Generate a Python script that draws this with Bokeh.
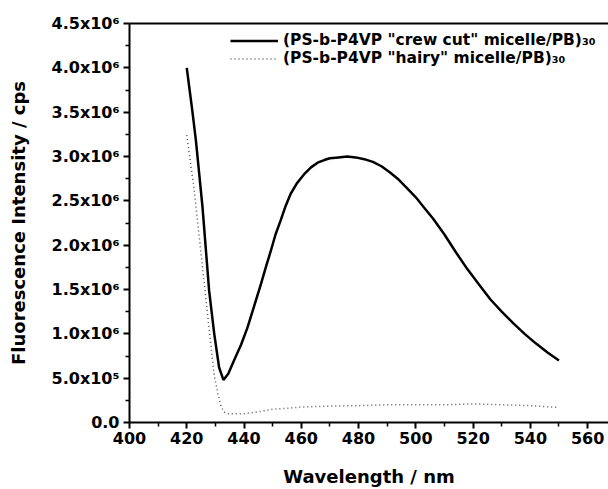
from bokeh.plotting import figure
from bokeh.models import (Range1d, FixedTicker, LinearAxis, Legend, LegendItem)
from bokeh.embed import file_html
from bokeh.resources import INLINE

# ---- data ----
crew_x = [420, 421, 422, 423.2, 425.5, 427.8, 429.6, 431.3, 432.8, 434.5, 436.5, 439,
          441.2, 443.5, 445.9, 447.7, 449.4, 451, 452.8, 454.5, 456.3, 458.5, 461,
          463.5, 465.7, 468, 470, 473, 476, 479, 482, 485, 488, 491, 494,
          497, 500, 503, 506, 510, 514, 518, 522, 526, 530, 534, 538, 542, 546, 550]
crew_y = [4.0e6, 3.75e6, 3.5e6, 3.18e6, 2.43e6, 1.49e6, 1.0e6, 0.62e6, 0.48e6, 0.55e6,
          0.70e6, 0.88e6, 1.07e6, 1.31e6, 1.56e6, 1.76e6, 1.94e6, 2.12e6, 2.28e6, 2.44e6,
          2.58e6, 2.70e6, 2.80e6, 2.88e6, 2.93e6, 2.96e6, 2.98e6, 2.99e6, 3.0e6, 2.99e6,
          2.97e6, 2.94e6, 2.89e6, 2.82e6, 2.74e6, 2.64e6,
          2.54e6, 2.42e6, 2.30e6, 2.12e6, 1.92e6, 1.73e6, 1.56e6, 1.39e6, 1.25e6, 1.12e6,
          1.0e6, 0.89e6, 0.79e6, 0.70e6]

hairy_x = [420, 421, 422.5, 425, 427.5, 429.5, 431, 432, 433, 434, 436, 440, 445, 450,
           455, 460, 470, 480, 490, 500, 510, 520, 530, 540, 545, 550]
hairy_y = [3.24e6, 3.0e6, 2.65e6, 1.9e6, 1.15e6, 0.55e6, 0.3e6, 0.18e6, 0.12e6, 0.1e6,
           0.1e6, 0.1e6, 0.12e6, 0.15e6, 0.16e6, 0.175e6, 0.185e6, 0.19e6, 0.2e6, 0.2e6,
           0.2e6, 0.21e6, 0.2e6, 0.19e6, 0.18e6, 0.17e6]

x_ticks = [400, 420, 440, 460, 480, 500, 520, 540, 560]
x_minor = [410, 430, 450, 470, 490, 510, 530, 550]
y_ticks = [0, 5e5, 1e6, 1.5e6, 2e6, 2.5e6, 3e6, 3.5e6, 4e6, 4.5e6]
y_minor = [2.5e5, 7.5e5, 1.25e6, 1.75e6, 2.25e6, 2.75e6, 3.25e6, 3.75e6, 4.25e6]
y_labels = ["0.0", "5.0x10\u2075", "1.0x10\u2076", "1.5x10\u2076", "2.0x10\u2076",
            "2.5x10\u2076", "3.0x10\u2076", "3.5x10\u2076", "4.0x10\u2076", "4.5x10\u2076"]

series_labels = ["(PS-b-P4VP \"crew cut\" micelle/PB)\u2083\u2080",
                 "(PS-b-P4VP \"hairy\" micelle/PB)\u2083\u2080"]
x_title = "Wavelength / nm"
y_title = "Fluorescence Intensity / cps"

FONT = "DejaVu Sans"

p = figure(width=608, height=489, output_backend="svg", toolbar_location=None,
           x_range=Range1d(400, 567.3), y_range=Range1d(0, 4.5e6),
           min_border_left=129, min_border_right=0, min_border_top=23,
           min_border_bottom=67)
p.outline_line_color = None
p.xgrid.visible = False
p.ygrid.visible = False
p.background_fill_color = "white"
p.border_fill_color = "white"

for ax in (p.xaxis[0], p.yaxis[0]):
    ax.axis_line_width = 2
    ax.axis_line_color = "black"
    ax.major_tick_line_width = 2
    ax.minor_tick_line_width = 1.5
    ax.major_tick_out = 6
    ax.major_tick_in = 0
    ax.minor_tick_out = 4
    ax.minor_tick_in = 0
    ax.major_label_text_font = FONT
    ax.major_label_text_font_style = "bold"
    ax.major_label_text_font_size = "16px"
    ax.major_label_text_color = "black"
    ax.axis_label_text_font = FONT
    ax.axis_label_text_font_style = "bold"
    ax.axis_label_text_font_size = "18px"
    ax.axis_label_text_color = "black"

p.xaxis[0].ticker = FixedTicker(ticks=x_ticks, minor_ticks=x_minor)
p.yaxis[0].ticker = FixedTicker(ticks=y_ticks, minor_ticks=y_minor)
p.yaxis[0].major_label_overrides = {t: l for t, l in zip(y_ticks, y_labels)}
p.xaxis[0].major_label_standoff = 3
p.yaxis[0].major_label_standoff = 4
p.xaxis[0].axis_label = x_title
p.yaxis[0].axis_label = y_title
p.xaxis[0].axis_label_standoff = 19
p.yaxis[0].axis_label_standoff = 20

# top frame line (no ticks)
top = LinearAxis(ticker=FixedTicker(ticks=[]), major_label_text_font_size="0px",
                 axis_line_width=2, major_tick_line_color=None, minor_tick_line_color=None)
p.add_layout(top, "above")

r1 = p.line(crew_x, crew_y, line_color="black", line_width=2.5)
r2 = p.line(hairy_x, hairy_y, line_color="#555555", line_width=1.5, line_dash="1 3")

legend = Legend(items=[LegendItem(label=series_labels[0], renderers=[r1]),
                       LegendItem(label=series_labels[1], renderers=[r2])],
                location=(101, 355), padding=0, margin=0, spacing=0,
                label_height=17, glyph_height=17, glyph_width=48, label_standoff=5,
                border_line_color=None, background_fill_alpha=0,
                label_text_font=FONT, label_text_font_style="bold",
                label_text_font_size="15.5px", label_text_color="black")
p.add_layout(legend, "center")

open("out.html", "w").write(file_html(p, INLINE))
